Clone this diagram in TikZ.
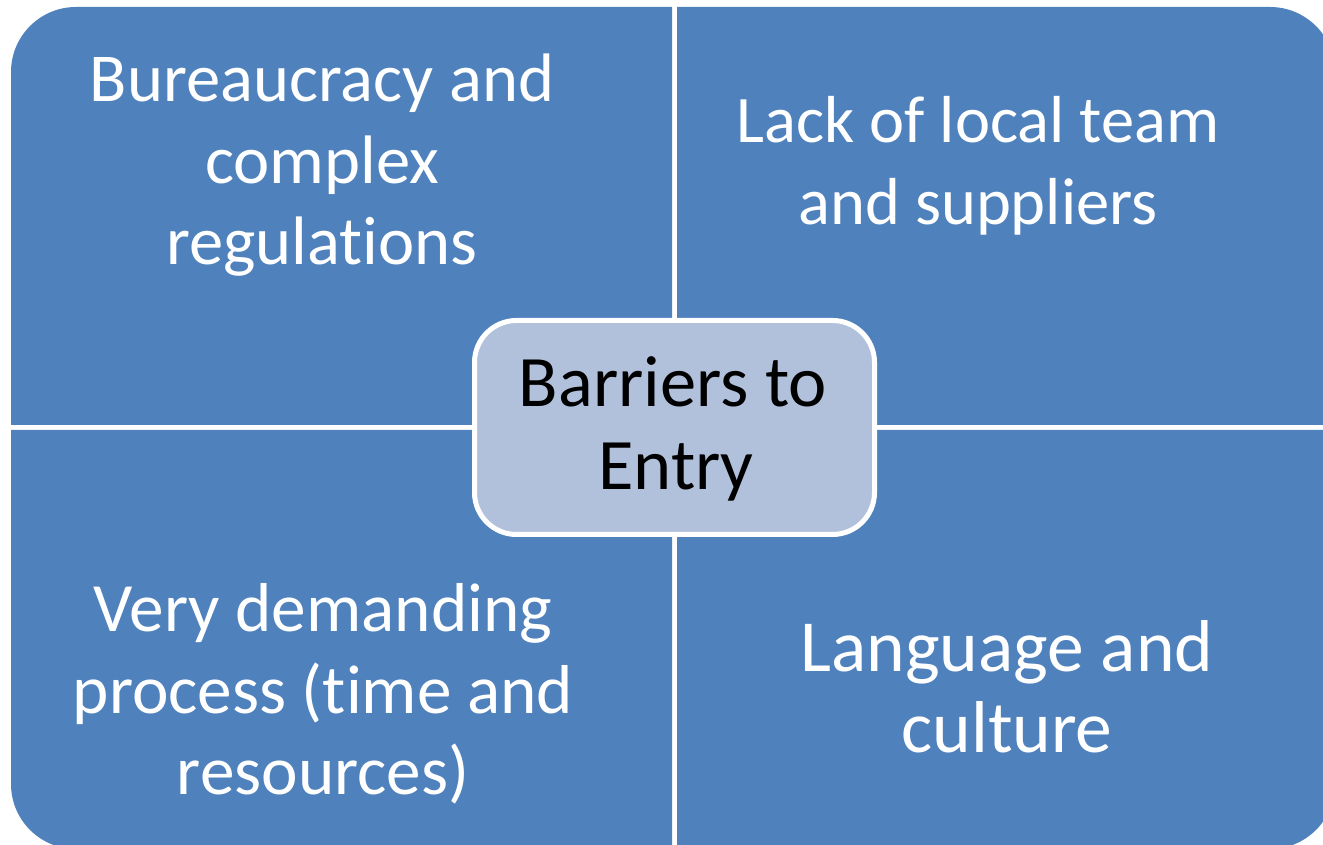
\documentclass[tikz,border=0pt]{standalone}
\usepackage{fontspec}
\setmainfont{Carlito}[Ligatures=NoCommon]
\definecolor{cellblue}{HTML}{4F81BD}
\definecolor{corefill}{HTML}{B2C1DB}
\begin{document}
\begin{tikzpicture}[x=1pt,y=1pt,
  cell/.style={fill=cellblue},
  celltext/.style={anchor=base,inner sep=0pt,text=white},
  coretext/.style={anchor=base,inner sep=0pt,text=black,font=\fontsize{72.5}{82}\selectfont},
  fsA/.style={font=\fontsize{68.6}{82}\selectfont},
  fsB/.style={font=\fontsize{66.5}{82}\selectfont},
  fsC/.style={font=\fontsize{69.2}{82}\selectfont},
  fsD/.style={font=\fontsize{73.5}{82}\selectfont},
  corebox/.style={rectangle,rounded corners=42pt,draw=white,line width=5pt,fill=corefill,
    minimum width=400pt,minimum height=214pt,inner sep=0pt}]
\useasboundingbox (0,0) rectangle (1323,845);
\clip (0,0) rectangle (1323,845);
% four quadrants, each rounded only at its outer corner
\fill[cell] (672,420) -- (11,420) -- (11,773) arc[start angle=180,end angle=90,radius=65] -- (672,838) -- cycle;
\fill[cell] (677,420) -- (677,838) -- (1270,838) arc[start angle=90,end angle=0,radius=65] -- (1335,420) -- cycle;
\fill[cell] (672,415) -- (11,415) -- (11,61) arc[start angle=180,end angle=270,radius=65] -- (672,-4) -- cycle;
\fill[cell] (677,415) -- (1335,415) -- (1335,61) arc[start angle=0,end angle=-90,radius=65] -- (677,-4) -- cycle;
% quadrant labels
\node[celltext,fsA] (tla) at (322,743) {Bureaucracy and};
\node[celltext,fsA] (tlb) at (322,661.5) {complex};
\node[celltext,fsA] (tlc) at (322,580) {regulations};
\node[celltext,fsB] (tra) at (978,702) {Lack of local team};
\node[celltext,fsB] (trb) at (978,620) {and suppliers};
\node[celltext,fsC] (bla) at (323,213) {Very demanding};
\node[celltext,fsC] (blb) at (323,131.5) {process (time and};
\node[celltext,fsC] (blc) at (323,50) {resources)};
\node[celltext,fsD] (bra) at (1007,173) {Language and};
\node[celltext,fsD] (brb) at (1007,92) {culture};
% central box
\node[corebox] (core) at (674.5,417.5) {};
\node[coretext] (corea) at (673,438) {Barriers to};
\node[coretext] (coreb) at (676,355) {Entry};
\end{tikzpicture}
\end{document}
